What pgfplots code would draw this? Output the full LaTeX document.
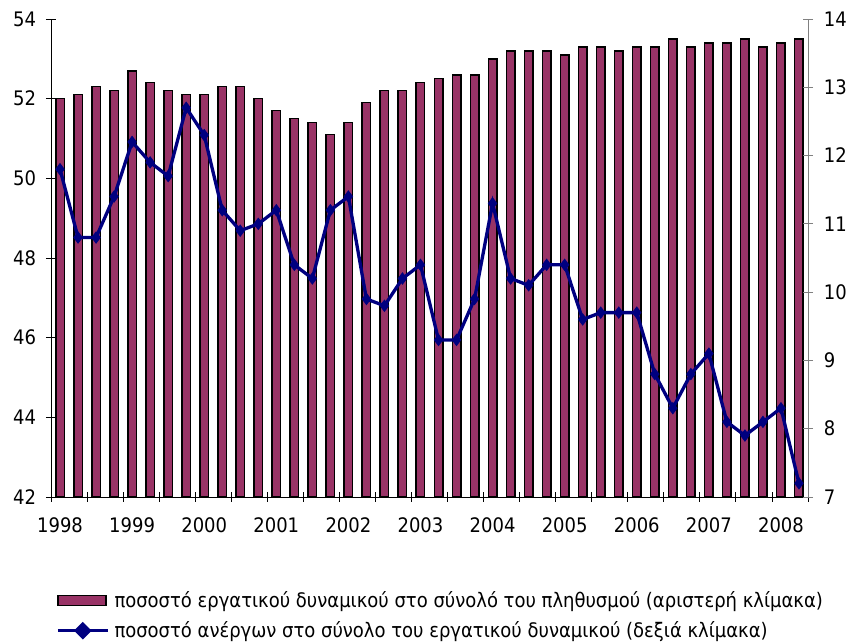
\documentclass[border=0pt]{standalone}
\usepackage{pgfplots}
\usepackage{pgfplotstable}
\pgfplotsset{compat=1.18}
\usepackage{fontspec}
\setmainfont{DejaVu Sans Condensed}
\definecolor{barc}{HTML}{993366}
\definecolor{linec}{HTML}{000080}

\pgfplotsset{
  barlegend/.style={legend image code/.code={\draw[fill=barc, draw=black, line width=1.5pt] (0pt,-5pt) rectangle (48pt,5pt);}},
  linelegend/.style={legend image code/.code={\draw[linec, line width=3.3pt] (0pt,0pt) -- (50pt,0pt);
     \fill[linec] (25pt,-6.5pt) -- (31.5pt,0pt) -- (25pt,6.5pt) -- (18.5pt,0pt) -- cycle;}},
}

\pgfplotstableread{
x lab unemp
0 52.0 11.8
1 52.1 10.8
2 52.3 10.8
3 52.2 11.4
4 52.7 12.2
5 52.4 11.9
6 52.2 11.7
7 52.1 12.7
8 52.1 12.3
9 52.3 11.2
10 52.3 10.9
11 52.0 11.0
12 51.7 11.2
13 51.5 10.4
14 51.4 10.2
15 51.1 11.2
16 51.4 11.4
17 51.9 9.9
18 52.2 9.8
19 52.2 10.2
20 52.4 10.4
21 52.5 9.3
22 52.6 9.3
23 52.6 9.9
24 53.0 11.3
25 53.2 10.2
26 53.2 10.1
27 53.2 10.4
28 53.1 10.4
29 53.3 9.6
30 53.3 9.7
31 53.2 9.7
32 53.3 9.7
33 53.3 8.8
34 53.5 8.3
35 53.3 8.8
36 53.4 9.1
37 53.4 8.1
38 53.5 7.9
39 53.3 8.1
40 53.4 8.3
41 53.5 7.2
}\datatable

\begin{document}
\fontsize{20}{24}\selectfont
\begin{tikzpicture}
\useasboundingbox (-51pt,-147pt) rectangle (798pt,497pt);
\begin{axis}[
  scale only axis, width=757pt, height=478pt,
  at={(0pt,0pt)}, anchor=south west,
  xmin=-0.5, xmax=41.5, ymin=42, ymax=54,
  ytick={42,44,...,54},
  axis y line*=left, axis x line*=bottom,
  axis line style={black, line width=0.9pt, -},
  xtick={-0.5,1.5,...,41.5}, xticklabels={},
  extra x ticks={0,4,8,12,16,20,24,28,32,36,40},
  extra x tick labels={1998,1999,2000,2001,2002,2003,2004,2005,2006,2007,2008},
  extra x tick style={major tick length=0pt},
  x tick label style={yshift=-14pt},
  y tick label style={xshift=-3pt},
  tick style={black, line width=0.9pt},
  tick align=center,
  major tick length=10pt,
  /pgf/number format/assume math mode=true,
  ticklabel style={font=\fontsize{20}{24}\selectfont},
  clip=true,
]
\addplot[ybar, bar width=8.5pt, fill=barc, draw=black, line width=1.5pt] table[x=x, y=lab] {\datatable};
\end{axis}
\begin{axis}[
  scale only axis, width=757pt, height=478pt,
  at={(0pt,0pt)}, anchor=south west,
  xmin=-0.5, xmax=41.5, ymin=7, ymax=14,
  ytick={7,8,...,14},
  axis y line*=right, axis x line=none,
  axis line style={gray, line width=0.9pt, -},
  tick style={gray, line width=0.9pt},
  tick align=center,
  major tick length=10pt,
  y tick label style={xshift=4pt},
  /pgf/number format/assume math mode=true,
  ticklabel style={font=\fontsize{20}{24}\selectfont},
  legend style={at={(0,0)}, anchor=north west, xshift=5pt, yshift=-93pt,
    draw=none, fill=none, font=\fontsize{20}{24}\selectfont,
    row sep=9pt, cells={anchor=west}, inner sep=0pt,
    nodes={inner sep=1pt}},
  legend cell align=left,
]
\addlegendimage{barlegend}
\addlegendentry{\hspace{4pt}ποσοστό εργατικού δυναμικού στο σύνολό του πληθυσμού (αριστερή κλίμακα)}
\addplot[linec, line width=3.3pt, mark=diamond*, mark size=5.5pt,
  mark options={solid, fill=linec, line width=1pt}, linelegend]
  table[x=x, y=unemp] {\datatable};
\addlegendentry{\hspace{4pt}ποσοστό ανέργων στο σύνολο του εργατικού δυναμικού (δεξιά κλίμακα)}
\end{axis}
\end{tikzpicture}
\end{document}
